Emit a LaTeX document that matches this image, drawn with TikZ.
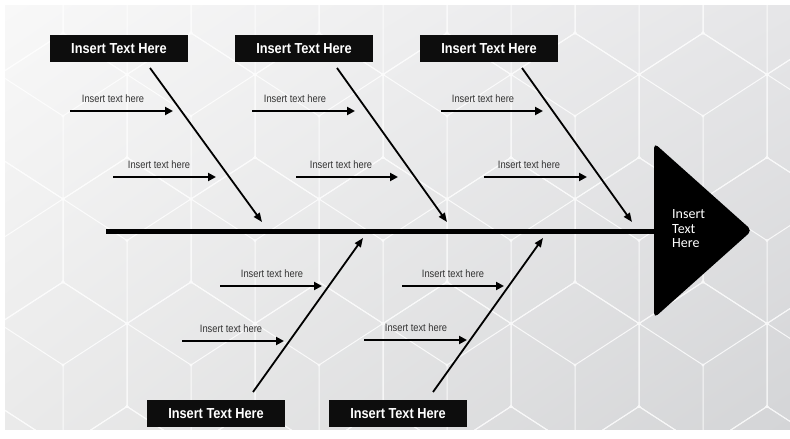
\documentclass[tikz,border=0pt]{standalone}
\usepackage{fontspec}
\setmainfont{Liberation Sans}
\newfontfamily\boxfont{Liberation Sans Bold}[FakeStretch=0.88]
\newfontfamily\smallfont{Liberation Sans}[FakeStretch=0.87]
\newfontfamily\headfont{Carlito}
\usetikzlibrary{arrows.meta,shadings}
\definecolor{bgul}{HTML}{F8F8F8}
\definecolor{bgur}{HTML}{E6E6E8}
\definecolor{bgll}{HTML}{EAEAEA}
\definecolor{bglr}{HTML}{D4D5D7}
\definecolor{boxblack}{HTML}{0D0D0D}
\definecolor{subgray}{HTML}{333333}
\tikzset{
  catbox/.style={fill=boxblack, minimum width=138bp, minimum height=27.5bp, inner sep=0pt,
    text=white, font=\boxfont\fontsize{14.5bp}{16bp}\selectfont},
  subtext/.style={anchor=base, inner sep=0pt, text=subgray,
    font=\smallfont\fontsize{10.7bp}{12bp}\selectfont},
  headtext/.style={anchor=west, align=left, inner sep=0pt, text=white,
    font=\headfont\fontsize{14bp}{14.5bp}\selectfont},
  bone/.style={draw=black, line width=1.8bp, -{Triangle[length=9bp,width=7bp]}},
  subarrow/.style={draw=black, line width=2.2bp, -{Triangle[length=8bp,width=8bp]}},
  spine/.style={draw=black, line width=4.8bp},
  hexline/.style={draw=white, line width=1bp, line join=round},
}
\begin{document}
\begin{tikzpicture}[x=1bp,y=-1bp]
\useasboundingbox (0,0) rectangle (790,439);
\fill[white] (0,0) rectangle (790,439);
% background
\begin{scope}
\clip (5,6) rectangle (790,429);
\shade[upper left=bgul, upper right=bgur, lower left=bgll, lower right=bglr] (5,6) rectangle (790,429);
\begin{scope}[transparency group, opacity=0.8]
\foreach \cy/\xo in {-8.5/-1, 116/-65, 240.5/-1, 365/-65, 489.5/-1}{
  \foreach \i in {0,...,7}{
    \pgfmathsetmacro\cx{\xo+128*\i}
    \draw[hexline] (\cx,\cy) ++(0,-83) -- ++(64,41.5) -- ++(0,83) -- ++(-64,41.5)
      -- ++(-64,-41.5) -- ++(0,-83) -- cycle;
    \draw[hexline] (\cx,\cy) ++(-64,-41.5) -- ++(64,41.5) -- ++(64,-41.5);
    \draw[hexline] (\cx,\cy) -- ++(0,83);
    \fill[white] (\cx,\cy) circle (1.6bp);
    \fill[white] (\cx,\cy) ++(0,-83) circle (1.6bp);
    \fill[white] (\cx,\cy) ++(0,83) circle (1.6bp);
    \fill[white] (\cx,\cy) ++(64,-41.5) circle (1.6bp);
    \fill[white] (\cx,\cy) ++(64,41.5) circle (1.6bp);
    \fill[white] (\cx,\cy) ++(-64,-41.5) circle (1.6bp);
    \fill[white] (\cx,\cy) ++(-64,41.5) circle (1.6bp);
  }
}
\end{scope}
\end{scope}

% spine and head
\coordinate (spineL) at (106,231.6);
\coordinate (spineR) at (660,231.6);
\draw[spine] (spineL) -- (spineR);
\fill[black, rounded corners=5bp] (654,143) -- (752,230.5) -- (654,318) -- cycle;
\node[headtext] (head) at (672,229) {Insert\\Text\\Here};

% category boxes
\node[catbox] (c1) at (119,48.5) {Insert Text Here};
\node[catbox] (c2) at (304,48.5) {Insert Text Here};
\node[catbox] (c3) at (489,48.5) {Insert Text Here};
\node[catbox] (c4) at (216,413.5) {Insert Text Here};
\node[catbox] (c5) at (398,413.5) {Insert Text Here};

% bones
\coordinate (s1) at (150,68);  \coordinate (t1) at (262,222);
\coordinate (s2) at (337,68);  \coordinate (t2) at (447,222);
\coordinate (s3) at (522,68);  \coordinate (t3) at (632,222);
\coordinate (s4) at (253,392); \coordinate (t4) at (363,238);
\coordinate (s5) at (433,392); \coordinate (t5) at (543,238);
\draw[bone] (s1) -- (t1);
\draw[bone] (s2) -- (t2);
\draw[bone] (s3) -- (t3);
\draw[bone] (s4) -- (t4);
\draw[bone] (s5) -- (t5);

% sub causes (top)
\coordinate (a1s) at (70,111);  \coordinate (a1e) at (173,111);
\coordinate (a2s) at (113,177); \coordinate (a2e) at (216,177);
\coordinate (a3s) at (252,111); \coordinate (a3e) at (355,111);
\coordinate (a4s) at (296,177); \coordinate (a4e) at (398,177);
\coordinate (a5s) at (441,111); \coordinate (a5e) at (543,111);
\coordinate (a6s) at (484,177); \coordinate (a6e) at (587,177);
% sub causes (bottom)
\coordinate (a7s) at (220,286); \coordinate (a7e) at (322,286);
\coordinate (a8s) at (182,341); \coordinate (a8e) at (284,341);
\coordinate (a9s) at (402,286); \coordinate (a9e) at (504,286);
\coordinate (a10s) at (364,340); \coordinate (a10e) at (467,340);
\foreach \k in {1,...,10}{ \draw[subarrow] (a\k s) -- (a\k e); }

\node[subtext] (l1) at (113,103) {Insert text here};
\node[subtext] (l2) at (159,169) {Insert text here};
\node[subtext] (l3) at (295,103) {Insert text here};
\node[subtext] (l4) at (341,169) {Insert text here};
\node[subtext] (l5) at (483,103) {Insert text here};
\node[subtext] (l6) at (529,169) {Insert text here};
\node[subtext] (l7) at (272,277.5) {Insert text here};
\node[subtext] (l8) at (231,333) {Insert text here};
\node[subtext] (l9) at (453,278) {Insert text here};
\node[subtext] (l10) at (416,332) {Insert text here};
\end{tikzpicture}
\end{document}
